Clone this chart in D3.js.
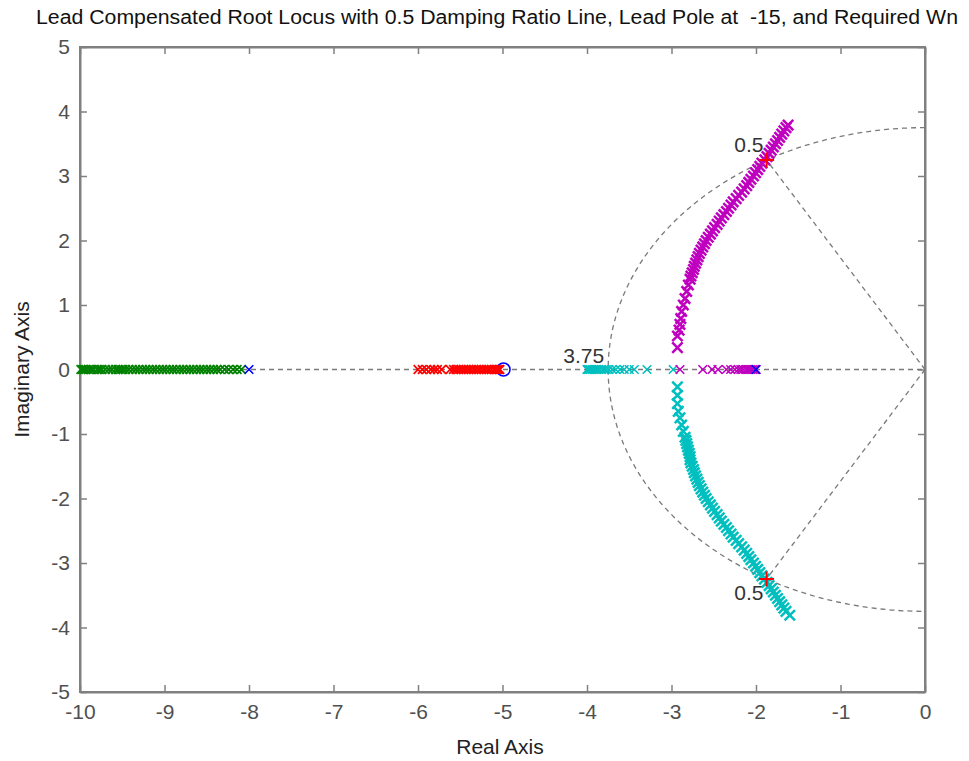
<!DOCTYPE html>
<html><head><meta charset="utf-8">
<script src="https://cdn.jsdelivr.net/npm/d3@7"></script>
<style>
body{margin:0;background:#fff}
text{font-family:"Liberation Sans",Arial,Helvetica,sans-serif}
</style>
</head><body>
<svg id="chart" width="969" height="761"></svg>
<script>
// ---------- data ----------
const titleText = "Lead Compensated Root Locus with 0.5 Damping Ratio Line, Lead Pole at  -15, and Required Wn";
const xLabel = "Real Axis";
const yLabel = "Imaginary Axis";
const xTicks = [-10,-9,-8,-7,-6,-5,-4,-3,-2,-1,0];
const yTicks = [-5,-4,-3,-2,-1,0,1,2,3,4,5];
const zetaValue = 0.5;
const wnValue = 3.75;
const zetaLabel = "0.5";
const wnLabel = "3.75";

const polesShown = [-8, -2];
const zerosShown = [-5];

const greenReal = [-9.99,-9.97,-9.95,-9.93,-9.90,-9.87,-9.84,-9.80,-9.77,-9.74,-9.70,-9.66,-9.62,-9.58,-9.55,-9.52,-9.49,-9.46,-9.42,-9.38,-9.34,-9.30,-9.26,-9.22,-9.18,-9.14,-9.10,-9.06,-9.02,-8.98,-8.94,-8.90,-8.86,-8.82,-8.78,-8.74,-8.70,-8.66,-8.62,-8.58,-8.54,-8.50,-8.46,-8.42,-8.38,-8.34,-8.29,-8.24,-8.19,-8.14,-8.09];
const redReal = [-6.00,-5.95,-5.90,-5.85,-5.81,-5.77,-5.72,-5.62,-5.58,-5.55,-5.52,-5.49,-5.46,-5.43,-5.40,-5.37,-5.34,-5.31,-5.28,-5.25,-5.22,-5.19,-5.16,-5.13,-5.10,-5.08,-5.06,-5.04,-5.03];
const cyanReal = [-4.00,-3.99,-3.98,-3.96,-3.94,-3.92,-3.90,-3.88,-3.86,-3.83,-3.80,-3.77,-3.74,-3.70,-3.66,-3.61,-3.56,-3.50,-3.44,-3.29,-2.98];
const magentaReal = [-2.00,-2.01,-2.02,-2.04,-2.06,-2.08,-2.10,-2.12,-2.15,-2.18,-2.21,-2.25,-2.30,-2.35,-2.45,-2.52,-2.63,-2.90];

const magentaComplex = [
 [-2.93,0.34],[-2.93,0.52],[-2.91,0.61],[-2.90,0.70],[-2.89,0.79],[-2.88,0.90],[-2.86,1.00],[-2.84,1.10],[-2.82,1.21],[-2.80,1.31],
 [-2.78,1.40],[-2.77,1.45],[-2.755,1.50],[-2.74,1.55],[-2.73,1.60],[-2.715,1.65],[-2.70,1.70],[-2.685,1.75],[-2.67,1.80],[-2.65,1.85],
 [-2.63,1.90],[-2.61,1.95],[-2.59,2.00],[-2.565,2.05],[-2.54,2.10],[-2.515,2.15],[-2.49,2.20],[-2.46,2.25],[-2.435,2.30],[-2.41,2.35],
 [-2.38,2.40],[-2.35,2.45],[-2.325,2.50],[-2.295,2.55],[-2.27,2.60],[-2.235,2.65],[-2.205,2.70],[-2.17,2.75],[-2.14,2.80],[-2.11,2.85],
 [-2.085,2.90],[-2.06,2.95],[-2.03,3.00],[-2.005,3.05],[-1.98,3.10],[-1.955,3.15],[-1.93,3.20],[-1.895,3.25],[-1.87,3.30],[-1.845,3.35],
 [-1.82,3.40],[-1.795,3.45],[-1.77,3.50],[-1.745,3.55],[-1.72,3.60],[-1.695,3.65],[-1.67,3.70],[-1.645,3.75],[-1.62,3.79]
];
const cyanComplex = [
 [-2.93,-0.27],[-2.93,-0.40],[-2.93,-0.53],[-2.92,-0.65],[-2.90,-0.75],[-2.88,-0.86],[-2.86,-0.96],[-2.84,-1.05],
 [-2.83,-1.10],[-2.82,-1.15],[-2.81,-1.20],[-2.80,-1.25],[-2.79,-1.30],[-2.78,-1.35],[-2.78,-1.40],[-2.77,-1.45],[-2.755,-1.50],[-2.74,-1.55],[-2.73,-1.60],
 [-2.715,-1.65],[-2.70,-1.70],[-2.685,-1.75],[-2.67,-1.80],[-2.65,-1.85],[-2.63,-1.90],[-2.61,-1.95],[-2.59,-2.00],[-2.565,-2.05],[-2.54,-2.10],
 [-2.515,-2.15],[-2.49,-2.20],[-2.46,-2.25],[-2.435,-2.30],[-2.41,-2.35],[-2.38,-2.40],[-2.35,-2.45],[-2.325,-2.50],[-2.295,-2.55],[-2.27,-2.60],
 [-2.235,-2.65],[-2.205,-2.70],[-2.17,-2.75],[-2.14,-2.80],[-2.11,-2.85],[-2.085,-2.90],[-2.06,-2.95],[-2.03,-3.00],[-2.005,-3.05],[-1.98,-3.10],
 [-1.955,-3.15],[-1.93,-3.20],[-1.90,-3.25],[-1.87,-3.30],[-1.845,-3.35],[-1.82,-3.40],[-1.795,-3.45],[-1.77,-3.50],[-1.745,-3.55],[-1.72,-3.60],
 [-1.695,-3.65],[-1.67,-3.70],[-1.645,-3.75],[-1.60,-3.81]
];
const designPoints = [[-1.875,3.2476],[-1.875,-3.2476]];

// ---------- layout ----------
const svg = d3.select("#chart");
const L = 80, R = 925, T = 47, B = 692;
const x = d3.scaleLinear().domain([-10,0]).range([L,R]);
const y = d3.scaleLinear().domain([-5,5]).range([B,T]);
const axisColor = "#808080";
const tickTextColor = "#505050";
const FS = 21;
const fmt = d => String(d);

// title
svg.append("text").attr("x", 497).attr("y", 24).attr("text-anchor","middle")
  .style("white-space","pre").attr("xml:space","preserve")
  .attr("font-size", 20).attr("fill","#111")
  .attr("textLength", 922).attr("lengthAdjust","spacingAndGlyphs")
  .text(titleText);

// axes box with inward ticks on all sides
const gx = svg.append("g").attr("transform",`translate(0,${B})`)
  .call(d3.axisBottom(x).tickValues(xTicks).tickSizeInner(-7).tickSizeOuter(0).tickPadding(12).tickFormat(fmt));
const gxTop = svg.append("g").attr("transform",`translate(0,${T})`)
  .call(d3.axisTop(x).tickValues(xTicks).tickSizeInner(-7).tickSizeOuter(0).tickFormat(""));
const gy = svg.append("g").attr("transform",`translate(${L},0)`)
  .call(d3.axisLeft(y).tickValues(yTicks).tickSizeInner(-7).tickSizeOuter(0).tickPadding(10).tickFormat(fmt));
const gyR = svg.append("g").attr("transform",`translate(${R},0)`)
  .call(d3.axisRight(y).tickValues(yTicks).tickSizeInner(-7).tickSizeOuter(0).tickFormat(""));
[gx,gxTop,gy,gyR].forEach(g=>{
  g.select(".domain").attr("stroke",axisColor).attr("stroke-width",2);
  g.selectAll(".tick line").attr("stroke",axisColor).attr("stroke-width",1.5);
  g.selectAll(".tick text").attr("fill",tickTextColor).attr("font-size",FS)
    .attr("font-family",'"Liberation Sans",Arial,sans-serif');
});
gx.selectAll(".tick text").attr("dy","0.71em");
gy.selectAll(".tick text").attr("x",-10);
svg.append("rect").attr("x",L).attr("y",T).attr("width",R-L).attr("height",B-T)
  .attr("fill","none").attr("stroke",axisColor).attr("stroke-width",2);

// axis labels
svg.append("text").attr("x", 500).attr("y", 754).attr("text-anchor","middle")
  .attr("font-size",FS).attr("fill","#222").text(xLabel);
svg.append("text").attr("transform",`translate(29,${y(0)}) rotate(-90)`).attr("text-anchor","middle")
  .attr("font-size",FS).attr("fill","#222").text(yLabel);

// sgrid-style dashed lines
const dashStyle = g => g.attr("fill","none").attr("stroke","#7a7a7a").attr("stroke-width",1.3).attr("stroke-dasharray","5,4");
const ang = Math.acos(zetaValue);
svg.append("line").attr("x1",x(-10)).attr("y1",y(0)).attr("x2",x(0)).attr("y2",y(0)).call(dashStyle);
[1,-1].forEach(s=>{
  svg.append("line").attr("x1",x(0)).attr("y1",y(0))
    .attr("x2",x(-wnValue*Math.cos(ang))).attr("y2",y(s*wnValue*Math.sin(ang))).call(dashStyle);
});
const arcPts = d3.range(90, 270.01, 2).map(a=>[wnValue*Math.cos(a*Math.PI/180), wnValue*Math.sin(a*Math.PI/180)]);
svg.append("path").attr("d", d3.line().x(d=>x(d[0])).y(d=>y(d[1]))(arcPts)).call(dashStyle);

// markers
function drawX(pts, color, r, sw){
  const xPath = `M${-r},${-r}L${r},${r}M${-r},${r}L${r},${-r}`;
  svg.append("g").selectAll("path").data(pts).join("path")
    .attr("d", xPath).attr("transform", d=>`translate(${x(d[0])},${y(d[1])})`)
    .attr("fill","none").attr("stroke",color).attr("stroke-width",sw);
}
const onAxis = arr => arr.map(v=>[v,0]);

drawX(onAxis(greenReal), "#008000", 4.3, 1.7);
// zero marker
svg.append("g").selectAll("circle").data(zerosShown).join("circle")
  .attr("cx", d=>x(d)+1).attr("cy", y(0)).attr("r", 6.5)
  .attr("fill","none").attr("stroke","#0000ff").attr("stroke-width",1.6);
drawX(onAxis(redReal), "#ff0000", 4.3, 1.7);
drawX(onAxis(cyanReal), "#00bfbf", 4.3, 1.6);
drawX(cyanComplex, "#00bfbf", 5.2, 2.5);
drawX(onAxis(magentaReal), "#bf00bf", 4.3, 1.6);
drawX(magentaComplex, "#bf00bf", 5.2, 2.5);
drawX(onAxis(polesShown), "#0000ff", 4.3, 1.6);

// design points (+)
const p = 7.5;
svg.append("g").selectAll("path").data(designPoints).join("path")
  .attr("d", `M${-p},0L${p},0M0,${-p}L0,${p}`)
  .attr("transform", d=>`translate(${x(d[0])},${y(d[1])})`)
  .attr("stroke","#ff0000").attr("stroke-width",2).attr("fill","none");

// sgrid labels
svg.append("text").attr("x", x(-1.875)-3).attr("y", y(3.2476)-8).attr("text-anchor","end")
  .attr("font-size",FS).attr("fill","#333").text(zetaLabel);
svg.append("text").attr("x", x(-1.875)-3).attr("y", y(-3.2476)+21).attr("text-anchor","end")
  .attr("font-size",FS).attr("fill","#333").text(zetaLabel);
svg.append("text").attr("x", x(-wnValue)-4).attr("y", y(0)-7).attr("text-anchor","end")
  .attr("font-size",FS).attr("fill","#333").text(wnLabel);
</script>
</body></html>
